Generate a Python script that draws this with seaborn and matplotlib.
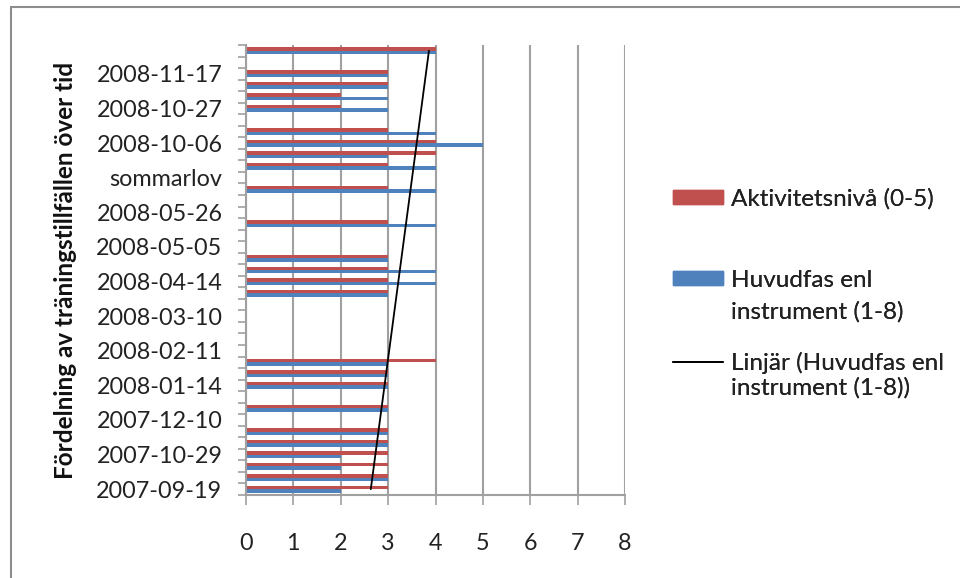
import numpy as np
import pandas as pd
import seaborn as sns
import matplotlib.pyplot as plt
from matplotlib.patches import Patch
from matplotlib.lines import Line2D
from matplotlib.ticker import FixedLocator

nan = np.nan

# träningstillfällen nerifrån och upp (0 = första tillfället)
tillfalle = list(range(39))
aktivitet = [3, 3, 3, 3, 3, 3, nan, 3, nan, 3, 3, 4, nan, nan, nan, nan, nan,
             3, 3, 3, 3, nan, nan, 3, nan, nan, 3, nan, 3, 4, 4, 3, nan,
             2, 2, 3, 3, nan, 4]
huvudfas = [2, 3, 2, 2, 3, 3, nan, 3, nan, 3, 3, 3, nan, nan, nan, nan, nan,
            3, 4, 4, 3, nan, nan, 4, nan, nan, 4, nan, 4, 3, 5, 4, nan,
            3, 3, 3, 3, nan, 4]

# bara var tredje tillfälle har etikett
etikett_pos = list(range(0, 39, 3))
etiketter = ['2007-09-19', '2007-10-29', '2007-12-10', '2008-01-14', '2008-02-11',
             '2008-03-10', '2008-04-14', '2008-05-05', '2008-05-26', 'sommarlov',
             '2008-10-06', '2008-10-27', '2008-11-17']

serie_akt = 'Aktivitetsnivå (0-5)'
serie_huv = 'Huvudfas enl instrument (1-8)'

rod = '#C0504D'
bla = '#4F81BD'
gra = '#A0A0A0'

sns.set_theme(style='white')
plt.rcParams['font.family'] = ['Lato', 'DejaVu Sans']

df = pd.DataFrame({'tillfalle': tillfalle, serie_akt: aktivitet, serie_huv: huvudfas})
df = df.melt(id_vars='tillfalle', var_name='serie', value_name='varde').dropna()

fig = plt.figure(figsize=(9.6, 5.78), dpi=100)
ax = fig.add_axes([246 / 960, 83 / 578, 379 / 960, 450 / 578])

ordning = tillfalle[::-1]
sns.barplot(data=df, x='varde', y='tillfalle', hue='serie', orient='h',
            order=ordning, hue_order=[serie_akt, serie_huv], palette=[rod, bla],
            width=0.6, errorbar=None, legend=False, saturation=1,
            linewidth=0, ax=ax)

# linjär trendlinje för huvudfas
x = np.array(tillfalle)
y = np.array(huvudfas)
ok = ~np.isnan(y)
k, m = np.polyfit(x[ok], y[ok], 1)
ends = np.array([x[0], x[-1]])
ax.plot(k * ends + m, (len(x) - 1) - ends, color='black', lw=1.3, zorder=5)

ax.set_xlim(0, 8)
ax.set_ylim(38.5, -0.5)
ax.set_xticks(range(9))
ax.set_yticks([38 - p for p in etikett_pos], etiketter)
ax.yaxis.set_minor_locator(FixedLocator(np.arange(-0.5, 39, 1)))
ax.tick_params(axis='y', which='major', length=0, pad=17, labelsize=16.8, colors='#222222')
ax.tick_params(axis='y', which='minor', length=6, width=1.2, color=gra, direction='out', left=True)
ax.tick_params(axis='x', which='major', length=7, width=1.2, color=gra, direction='out',
               pad=20, labelsize=16.8, labelcolor='#222222', bottom=True)
ax.grid(axis='x', color=gra, lw=1.5)
ax.set_axisbelow(True)
for s in ['top', 'right']:
    ax.spines[s].set_visible(False)
for s in ['left', 'bottom']:
    ax.spines[s].set_color(gra)
    ax.spines[s].set_linewidth(1.5)

ax.set_xlabel('')
ax.set_ylabel('Fördelning av träningstillfällen över tid', fontsize=17.5,
              fontweight='bold', labelpad=14, color='#111111')

# förklaring: en rad per post, som i Excel
fs = 17.5
tom = Patch(facecolor='none', edgecolor='none')
legend_poster = [
    ([Patch(color=rod)], [serie_akt], 199, 0.12),
    ([Patch(color=bla), tom], ['Huvudfas enl', 'instrument (1-8)'], 296, 0.4),
    ([Line2D([], [], color='black', lw=1.3), tom], ['Linjär (Huvudfas enl', 'instrument (1-8))'], 375, 0.12),
]
for handles, labels, yc, sp in legend_poster:
    leg = fig.legend(handles=handles, labels=labels, loc='center left',
                     bbox_to_anchor=(673 / 960, 1 - yc / 578), frameon=False,
                     fontsize=fs, handlelength=2.05, handleheight=0.5,
                     handletextpad=0.35, borderpad=0, borderaxespad=0,
                     labelspacing=sp)
    for t in leg.get_texts():
        t.set_color('#222222')
    fig.add_artist(leg)

# ram runt diagrammet
fig.add_artist(Line2D([11 / 960, 11 / 960], [0, 1 - 7 / 578], color='#8C8C8C', lw=1.5))
fig.add_artist(Line2D([11 / 960, 1], [1 - 7 / 578, 1 - 7 / 578], color='#8C8C8C', lw=1.5))

fig.savefig('out.png', dpi=100)
